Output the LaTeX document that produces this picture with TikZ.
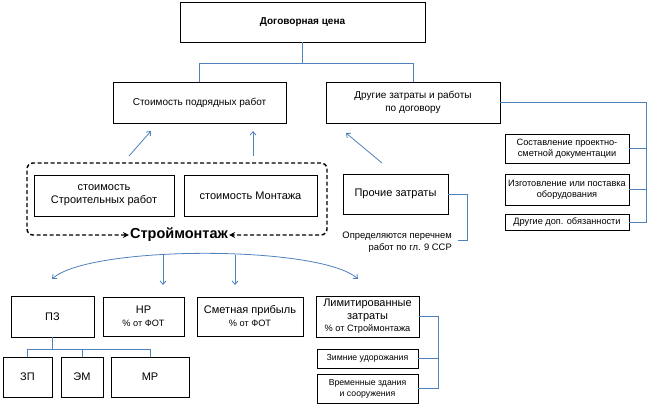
\documentclass[tikz,border=0pt]{standalone}
\usepackage{fontspec}
\setmainfont{Liberation Sans}
\usetikzlibrary{arrows.meta}
\definecolor{lnk}{RGB}{79,129,189}
\newcommand\fsz[2]{\fontsize{#1}{#2}\selectfont}
\begin{document}
\begin{tikzpicture}[x=1pt,y=-1pt,
  bx/.style={draw=black,line width=0.9pt,inner sep=1pt,align=center,anchor=center},
  ln/.style={draw=lnk,line width=0.8pt},
  ar/.style={draw=lnk,line width=0.8pt,-{Straight Barb[length=3.5pt,width=6pt]}},
  dsh/.style={draw=black,line width=1.4pt,dash pattern=on 4pt off 2.5pt,rounded corners=6pt},
]
\useasboundingbox (0,0) rectangle (653,406);
\fill[white] (0,0) rectangle (653,406);
% boxes
\node[bx,minimum width=245pt,minimum height=40pt,font=\fsz{10}{12}\bfseries] (top) at (302.5,22) {Договорная цена};
\node[bx,minimum width=173pt,minimum height=41pt,font=\fsz{10}{12}] (spr) at (199.5,102.5) {Стоимость подрядных работ};
\node[bx,minimum width=174pt,minimum height=41pt,font=\fsz{10}{12.5}] (dr) at (413,102.5) {Другие затраты и работы\\по договору};
\node[bx,minimum width=124pt,minimum height=29pt,font=\fsz{9.2}{11}] (sost) at (567,148.5) {Составление проектно-\\сметной документации};
\node[bx,minimum width=124pt,minimum height=31pt,font=\fsz{9.2}{11}] (izg) at (567,189.5) {Изготовление или поставка\\оборудования};
\node[bx,minimum width=124pt,minimum height=16pt,font=\fsz{9.2}{11}] (drdop) at (567,222) {Другие доп. обязанности};
\node[bx,minimum width=140pt,minimum height=41pt,font=\fsz{11}{13}] (str) at (104,195.5) {стоимость\\Строительных работ};
\node[bx,minimum width=133pt,minimum height=41pt,font=\fsz{11}{13}] (mont) at (250.5,195.5) {стоимость Монтажа};
\node[bx,minimum width=105pt,minimum height=40pt,font=\fsz{11}{13}] (proch) at (395.5,194) {Прочие затраты};
\node[align=right,anchor=east,inner sep=0pt,font=\fsz{9.4}{11.5}] (opr) at (452,242) {Определяются перечнем\\работ по гл. 9 ССР};
\node[inner sep=1pt,font=\fsz{14.5}{16}\bfseries,fill=white] (sm) at (179,235) {Строймонтаж};
\node[bx,minimum width=83pt,minimum height=41pt,font=\fsz{11}{13}] (pz) at (52.5,316.5) {ПЗ};
\node[bx,minimum width=81pt,minimum height=39pt,font=\fsz{11}{13}] (nr) at (143.5,316.5) {НР\\{\fsz{9.2}{11}\% от ФОТ}};
\node[bx,minimum width=106pt,minimum height=39pt,font=\fsz{11}{13}] (smet) at (250,316.5) {Сметная прибыль\\{\fsz{9.2}{11}\% от ФОТ}};
\node[bx,minimum width=103pt,minimum height=41pt,font=\fsz{11}{12.5}] (lim) at (367.5,316.5) {Лимитированные\\затраты\\{\fsz{9.2}{10}\% от Строймонтажа}};
\node[bx,minimum width=101pt,minimum height=19pt,font=\fsz{8.7}{10.5}] (zim) at (367.5,358.5) {Зимние удорожания};
\node[bx,minimum width=101pt,minimum height=29pt,font=\fsz{8.7}{11}] (vrem) at (367.5,388.5) {Временные здания\\и сооружения};
\node[bx,minimum width=49pt,minimum height=40pt,font=\fsz{11}{13}] (zp) at (27.5,377) {ЗП};
\node[bx,minimum width=42pt,minimum height=40pt,font=\fsz{11}{13}] (em) at (82,377) {ЭМ};
\node[bx,minimum width=78pt,minimum height=40pt,font=\fsz{11}{13}] (mr) at (150,377) {МР};
% dashed Stroimontazh frame
\coordinate (dl) at (sm.west);
\coordinate (dr2) at (sm.east);
\draw[dsh,{Stealth[length=6pt,width=6pt]}-{Stealth[length=6pt,width=6pt]}] (dl) -- (27,235) -- (27,163) -- (327,163) -- (327,235) -- (dr2);
% top connectors
\coordinate (j) at (302.5,63);
\draw[ln] (top) -- (j) -| (spr);
\draw[ln] (j) -| (dr);
% right bracket
\coordinate (rb) at (646,102.5);
\draw[ln] (dr.east) -- (rb) |- (drdop.east);
\draw[ln] (rb |- sost.east) -- (sost.east);
\draw[ln] (rb |- izg.east) -- (izg.east);
% arrows up
\coordinate (a1s) at (129,156); \coordinate (a1e) at (151,131);
\coordinate (a2s) at (253,156); \coordinate (a2e) at (253,131);
\coordinate (a3s) at (382,163); \coordinate (a3e) at (346,133);
\draw[ar] (a1s) -- (a1e);
\draw[ar] (a2s) -- (a2e);
\draw[ar] (a3s) -- (a3e);
% proch bracket
\coordinate (pb1) at (467,194); \coordinate (pb2) at (458,240);
\draw[ln] (proch.east) -- (pb1) |- (pb2);
% arc
\coordinate (arcL) at (52,279); \coordinate (arcR) at (358,279);
\draw[draw=lnk,line width=0.8pt,{Straight Barb[length=3.5pt,width=6pt]}-{Straight Barb[length=3.5pt,width=6pt]}] (arcL) .. controls (90,245) and (320,245) .. (arcR);
\coordinate (v1s) at (163,255); \coordinate (v1e) at (163,285);
\coordinate (v2s) at (235,255); \coordinate (v2e) at (235,285);
\draw[ar] (v1s) -- (v1e);
\draw[ar] (v2s) -- (v2e);
% lim bracket
\coordinate (lb) at (438,316.5);
\draw[ln] (lim.east) -- (lb) |- (vrem.east);
\draw[ln] (lb |- zim.east) -- (zim.east);
% pz tree
\coordinate (pj) at (52.5,349);
\draw[ln] (pz.south) -- (pj);
\draw[ln] (pj) -| (zp.north);
\draw[ln] (pj) -| (em.north);
\draw[ln] (pj) -| (mr.north);
\end{tikzpicture}
\end{document}
